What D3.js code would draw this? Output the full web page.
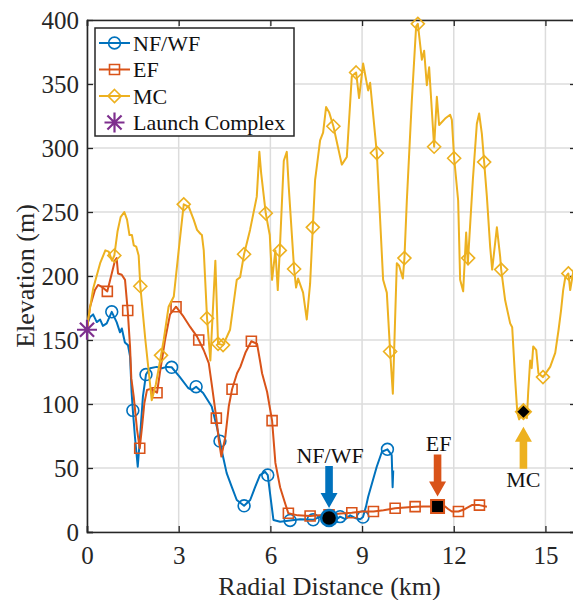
<!DOCTYPE html>
<html>
<head>
<meta charset="utf-8">
<script src="https://cdn.jsdelivr.net/npm/d3@7"></script>
<style>
  html, body { margin: 0; padding: 0; background: #ffffff; overflow: hidden; }
  svg { display: block; font-family: "Liberation Serif", "Times New Roman", serif; }
</style>
</head>
<body>
<svg id="chart" width="573" height="600"></svg>
<script>
// ---- data: elevation profiles along radial distance [km, m] ----
const xTicks = [0, 3, 6, 9, 12, 15];
const yTicks = [0, 50, 100, 150, 200, 250, 300, 350, 400];

const nfwfProfile = [
  [0.00,162],[0.10,168],[0.20,170],[0.32,164],[0.43,166],[0.52,161],[0.645,163],[0.81,172],
  [0.97,164],[1.08,156],[1.14,159],[1.24,148],[1.34,146],[1.41,137],[1.46,109],[1.50,95],
  [1.57,74],[1.66,51],[1.735,74],[1.83,106],[1.93,123],[2.06,128],[2.28,129],[2.45,128],
  [2.61,129],[2.77,128.7],[3.04,121],[3.31,112.5],[3.43,111],[3.57,113.5],[3.80,108.6],
  [4.08,98],[4.25,82],[4.35,71],[4.45,59],[4.57,46],[4.74,35],[4.90,25],[5.14,20.5],
  [5.34,25],[5.50,35],[5.66,44.5],[5.83,47],[5.915,44.5],[5.99,30],[6.10,9.4],[6.32,8],
  [6.645,9],[6.97,10],[7.40,9.5],[7.63,12],[7.92,11],[8.12,9],[8.28,12],[8.45,10],
  [8.61,13],[8.77,11],[8.94,10],[9.03,11.7],[9.13,20],[9.20,27.6],[9.48,51],[9.65,62.7],
  [9.83,64.6],[9.97,60],[10.00,35],[10.02,48]
];
const nfwfMarkers = [
  [0.81,172],[1.50,95],[1.93,123],[2.77,128.7],[3.57,113.5],[4.35,71],[5.14,20.5],
  [5.915,44.5],[6.645,9],[7.40,9.5],[7.92,11],[8.28,12],[9.03,11.7],[9.83,64.6]
];

const efProfile = [
  [0.00,158],[0.10,176],[0.26,189],[0.36,193],[0.48,191.6],[0.665,188],[0.81,202],[0.92,212.5],
  [0.97,214],[1.015,202],[1.136,201],[1.244,197],[1.332,173],[1.408,145],[1.45,120],[1.529,105.7],
  [1.637,80],[1.725,65.4],[1.80,82],[1.876,100.5],[1.964,111],[2.10,112],[2.291,108.8],
  [2.389,125],[2.553,150],[2.717,170],[2.913,176],[3.165,168],[3.381,160],[3.601,152.6],
  [3.656,150],[3.82,142],[3.984,132],[4.092,113.5],[4.232,89],[4.311,72],[4.396,59],
  [4.527,74.5],[4.638,98],[4.746,111.5],[4.910,124],[5.018,129],[5.182,140],[5.378,149],
  [5.565,147],[5.673,132],[5.728,124],[5.892,109.6],[6.056,87],[6.164,54],[6.318,35],
  [6.481,22.4],[6.589,14.6],[6.90,13],[7.30,12.5],[7.60,13],[7.92,13.5],[8.30,14.5],
  [8.664,15],[9.00,16],[9.372,16],[9.70,17],[10.082,18.5],[10.736,19.8],[11.00,20],
  [11.466,20],[11.718,20],[11.817,18],[11.938,16],[12.154,16],[12.373,18],[12.592,21],
  [12.841,21],[13.084,19.8]
];
const efMarkers = [
  [0.665,188],[1.332,173],[1.725,65.4],[2.291,108.8],[2.913,176],[3.656,150],[4.232,89],
  [4.746,111.5],[5.378,149],[6.056,87],[6.589,14.6],[7.30,12.5],[7.92,13.5],[8.664,15],
  [9.372,16],[10.082,18.5],[10.736,19.8],[11.466,20],[12.154,16],[12.841,21]
];

const mcProfile = [
  [0.00,160],[0.20,190],[0.43,210],[0.60,220],[0.71,219],[0.82,212],[0.894,216],[1.00,235],
  [1.10,246],[1.22,250],[1.31,244],[1.39,232],[1.47,232],[1.53,224],[1.61,223],[1.69,216],
  [1.745,192],[1.91,150],[2.118,103],[2.25,115],[2.422,138],[2.51,150],[2.67,176],[2.84,184],
  [3.00,220],[3.165,256],[3.33,254],[3.49,244],[3.60,236],[3.71,233],[3.76,232],[3.82,220],
  [3.928,167],[4.036,134],[4.20,212],[4.288,147],[4.452,146],[4.68,158],[4.90,197],[5.01,199],
  [5.139,217],[5.335,236],[5.555,262],[5.64,297],[5.70,280],[5.849,249],[5.948,236],[5.98,232],
  [6.056,197],[6.164,220],[6.242,189],[6.308,220],[6.439,290],[6.537,297],[6.60,270],
  [6.776,205.5],[6.841,191],[6.907,198],[7.070,187],[7.191,166],[7.300,194],[7.388,238],
  [7.463,275],[7.49,280],[7.627,306],[7.725,312],[7.823,332],[7.921,328],[8.062,317],
  [8.337,287],[8.501,293],[8.664,356],[8.805,359],[8.903,339],[9.034,366],[9.198,345],
  [9.264,351],[9.483,296],[9.689,197],[9.810,187],[9.918,141],[10.007,108],[10.137,210],
  [10.213,208],[10.334,198],[10.386,214],[10.465,259],[10.628,337],[10.769,395],[10.825,397],
  [10.956,369],[11.031,376],[11.119,349],[11.195,363],[11.358,301],[11.447,340],[11.522,318],
  [11.718,323],[11.882,326],[11.938,322],[12.013,292],[12.144,259],[12.209,197],[12.308,188],
  [12.406,234],[12.462,209],[12.471,214],[12.625,275],[12.756,319],[12.831,327],[12.920,311],
  [12.995,289],[13.084,262],[13.191,223],[13.257,205],[13.411,238],[13.519,215],[13.552,205],
  [13.682,181],[13.846,163],[13.912,160],[14.010,119],[14.08,93],[14.141,88],[14.282,94],
  [14.393,89],[14.435,109],[14.50,134],[14.55,128],[14.60,145],[14.70,142],[14.77,124],
  [14.92,121],[15.155,129],[15.32,140],[15.43,158],[15.51,173],[15.58,189],[15.65,199],
  [15.75,202],[15.81,189],[15.92,205]
];
const mcMarkers = [
  [0.894,216],[1.745,192],[2.422,138],[3.165,256],[3.928,167],[4.288,147],[4.452,146],
  [5.139,217],[5.849,249],[6.308,220],[6.776,205.5],[7.388,238],[8.062,317],[8.805,359],
  [9.483,296],[9.918,141],[10.386,214],[10.825,397],[11.358,301],[12.013,292],[12.471,214],
  [12.995,289],[13.552,205],[14.282,94],[14.92,121],[15.75,202]
];

const launchComplex = [0, 158];

// target sites marked with arrows
const targetNames = ["NF/WF", "EF", "MC"];
const targetKm = [7.92, 11.47, 14.28];
const targetElev = [11, 20, 94];

const legendNames = ["NF/WF", "EF", "MC", "Launch Complex"];

// ---- layout ----
const colors = { nfwf: "#0072BD", ef: "#D95319", mc: "#EDB120", lc: "#7E2F8E" };
const axisColor = "#262626";
const plot = { left: 87, right: 576, top: 20, bottom: 532 };

const svg = d3.select("#chart");
const x = d3.scaleLinear().domain([0, 16]).range([plot.left, plot.right]);
const y = d3.scaleLinear().domain([0, 400]).range([plot.bottom, plot.top]);

svg.append("defs").append("clipPath").attr("id", "plotClip")
  .append("rect").attr("x", plot.left).attr("y", plot.top - 8)
  .attr("width", plot.right - plot.left).attr("height", plot.bottom - plot.top + 8);

// grid
const grid = svg.append("g");
grid.selectAll("line.vx").data(xTicks).join("line")
  .attr("x1", d => x(d)).attr("x2", d => x(d))
  .attr("y1", plot.top).attr("y2", plot.bottom)
  .attr("stroke", "#dcdcdc").attr("stroke-width", 1.5);
grid.selectAll("line.hy").data(yTicks).join("line")
  .attr("x1", plot.left).attr("x2", plot.right)
  .attr("y1", d => y(d)).attr("y2", d => y(d))
  .attr("stroke", "#dcdcdc").attr("stroke-width", 1.5);

// axes (ticks pointing inward, box on)
const tickLen = 6;
const xAxisBottom = d3.axisBottom(x).tickValues(xTicks).tickSize(-tickLen).tickPadding(14).tickFormat(d3.format("d"));
const xAxisTop = d3.axisTop(x).tickValues(xTicks).tickSize(-tickLen).tickFormat("");
const yAxisLeft = d3.axisLeft(y).tickValues(yTicks).tickSize(-tickLen).tickPadding(8).tickFormat(d3.format("d"));
const yAxisRight = d3.axisRight(y).tickValues(yTicks).tickSize(-tickLen).tickFormat("");

function styleAxis(g) {
  g.select(".domain").attr("stroke", axisColor).attr("stroke-width", 1.6);
  g.selectAll(".tick line").attr("stroke", axisColor).attr("stroke-width", 1.3);
  g.selectAll(".tick text").attr("fill", axisColor)
    .style("font-family", '"Liberation Serif", "Times New Roman", serif')
    .style("font-size", "25px");
}
svg.append("g").attr("transform", `translate(0,${plot.bottom})`).call(xAxisBottom).call(styleAxis);
svg.append("g").attr("transform", `translate(0,${plot.top})`).call(xAxisTop).call(styleAxis);
svg.append("g").attr("transform", `translate(${plot.left},0)`).call(yAxisLeft).call(styleAxis);
svg.append("g").attr("transform", `translate(${plot.right},0)`).call(yAxisRight).call(styleAxis);
svg.selectAll(".domain").attr("d", function () { return d3.select(this).attr("d").replace(/[VH]-?6/g, m => m[0] + "0"); });

// axis titles
svg.append("text").attr("x", (plot.left + plot.right) / 2 - 2).attr("y", 595)
  .attr("text-anchor", "middle").attr("fill", axisColor).style("font-size", "26px")
  .text("Radial Distance (km)");
svg.append("text").attr("transform", `translate(34,${(plot.top + plot.bottom) / 2}) rotate(-90)`)
  .attr("text-anchor", "middle").attr("fill", axisColor).style("font-size", "26px")
  .text("Elevation (m)");

// symbols
const diamondPath = r => `M0,${-r}L${r},0L0,${r}L${-r},0Z`;
const squarePath = s => `M${-s},${-s}H${s}V${s}H${-s}Z`;
const asteriskPath = r => {
  let p = "";
  for (let k = 0; k < 4; k++) {
    const a = k * Math.PI / 4;
    const dx = r * Math.cos(a), dy = r * Math.sin(a);
    p += `M${-dx},${-dy}L${dx},${dy}`;
  }
  return p;
};

const line = d3.line().x(d => x(d[0])).y(d => y(d[1]));
const plotG = svg.append("g").attr("clip-path", "url(#plotClip)");

function drawSeries(profile, markers, color, markerD) {
  plotG.append("path").datum(profile).attr("d", line)
    .attr("fill", "none").attr("stroke", color).attr("stroke-width", 2)
    .attr("stroke-linejoin", "round");
  plotG.append("g").selectAll("path").data(markers).join("path")
    .attr("transform", d => `translate(${x(d[0])},${y(d[1])})`)
    .attr("d", markerD).attr("fill", "none").attr("stroke", color).attr("stroke-width", 1.6);
}
drawSeries(nfwfProfile, nfwfMarkers, colors.nfwf, d3.symbol(d3.symbolCircle, 110)());
drawSeries(efProfile, efMarkers, colors.ef, squarePath(5));
drawSeries(mcProfile, mcMarkers, colors.mc, diamondPath(6.5));

// launch complex
svg.append("path")
  .attr("transform", `translate(${x(launchComplex[0])},${y(launchComplex[1])})`)
  .attr("d", asteriskPath(10)).attr("stroke", colors.lc).attr("stroke-width", 2.2).attr("fill", "none");

// target markers with arrows and labels
const targetColors = [colors.nfwf, colors.ef, colors.mc];
const arrowPath = (len, dir) => {
  // arrow tip at origin, shaft extending away along dir (+1 = shaft below, -1 = shaft above)
  const hl = 15, hw = 8.5, sw = 3.8;
  return `M0,0L${hw},${dir * hl}L${sw},${dir * hl}L${sw},${dir * len}L${-sw},${dir * len}L${-sw},${dir * hl}L${-hw},${dir * hl}Z`;
};
targetNames.forEach((name, i) => {
  const tx = x(targetKm[i]), ty = y(targetElev[i]);
  const below = name === "MC";
  const gap = below ? 15 : 10;
  const tipY = below ? ty + gap : ty - gap;
  svg.append("path").attr("transform", `translate(${tx},${tipY})`)
    .attr("d", arrowPath(42, below ? 1 : -1)).attr("fill", targetColors[i]);
  svg.append("text").attr("x", tx + (below ? 0 : 1)).attr("y", below ? ty + 75 : ty - 55)
    .attr("text-anchor", "middle").attr("fill", "#111").style("font-size", "22px").text(name);
});
// black-filled target symbols
svg.append("circle").attr("cx", x(targetKm[0])).attr("cy", y(targetElev[0])).attr("r", 8)
  .attr("fill", "#000").attr("stroke", colors.nfwf).attr("stroke-width", 2.5);
svg.append("path").attr("transform", `translate(${x(targetKm[1])},${y(targetElev[1])})`)
  .attr("d", squarePath(6.5)).attr("fill", "#000").attr("stroke", colors.ef).attr("stroke-width", 2);
svg.append("path").attr("transform", `translate(${x(targetKm[2])},${y(targetElev[2])})`)
  .attr("d", diamondPath(7.5)).attr("fill", "#000").attr("stroke", colors.mc).attr("stroke-width", 2);

// legend
const lg = svg.append("g");
lg.append("rect").attr("x", 95).attr("y", 28).attr("width", 199).attr("height", 108)
  .attr("fill", "#fff").attr("stroke", axisColor).attr("stroke-width", 1.5);
const legendColors = [colors.nfwf, colors.ef, colors.mc, colors.lc];
const legendMarks = [d3.symbol(d3.symbolCircle, 110)(), squarePath(5), diamondPath(6.5), asteriskPath(10)];
legendNames.forEach((name, i) => {
  const cy = 43 + i * 26.5;
  if (i < 3) {
    lg.append("line").attr("x1", 99).attr("x2", 130).attr("y1", cy).attr("y2", cy)
      .attr("stroke", legendColors[i]).attr("stroke-width", 2);
  }
  lg.append("path").attr("transform", `translate(114.5,${cy})`).attr("d", legendMarks[i])
    .attr("fill", "none").attr("stroke", legendColors[i]).attr("stroke-width", i < 3 ? 1.6 : 2.2);
  lg.append("text").attr("x", 133).attr("y", cy + 7.5).attr("fill", "#111")
    .style("font-size", "22px").text(name);
});
</script>
</body>
</html>
